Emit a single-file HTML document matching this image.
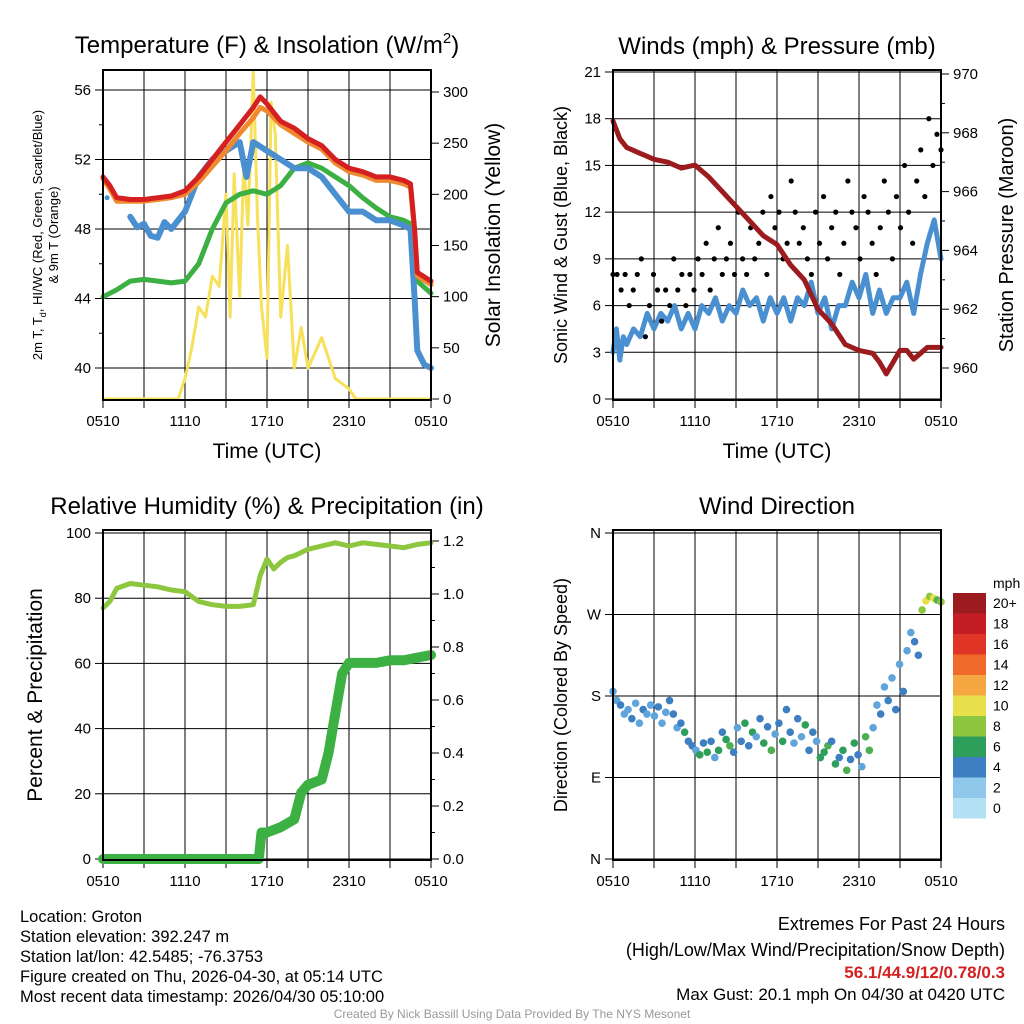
<!DOCTYPE html>
<html><head><meta charset="utf-8">
<style>
html,body{margin:0;padding:0;background:#fff;}
svg{display:block;font-family:"Liberation Sans",sans-serif;}
</style></head>
<body>
<svg id="root" width="1024" height="1024" viewBox="0 0 1024 1024"></svg>
<script>
// ---- data ----
const tempHours=[0,0.5,1,2,3,4,5,6,7,8,9,10,11,11.5,12,13,14,15,16,17,18,19,20,21,22,22.5,22.8,23,24];
const tempRed=[51,50.5,49.8,49.7,49.7,49.8,49.9,50.2,51,52,53,54,55,55.6,55.2,54.2,53.8,53.2,52.8,52,51.5,51.3,51,51,50.8,50.6,48,45.5,45];
const tempOrange=[50.9,50.3,49.6,49.6,49.6,49.7,49.8,50,50.7,51.6,52.5,53.5,54.4,55,54.8,54,53.5,53,52.6,51.8,51.3,51.1,50.8,50.8,50.6,50.4,47.8,45.3,44.8];
const greenHours=[0,1,2,3,4,5,6,7,8,9,10,11,12,13,14,15,16,17,18,19,20,21,22,22.5,22.8,23,24];
const tempGreen=[44.1,44.5,45,45.1,45,44.9,45,46,48,49.5,50,50.2,50,50.5,51.5,51.8,51.5,51,50.5,49.8,49.2,48.7,48.5,48.3,46,45,44.3];
const blueHours=[2,2.5,3,3.5,4,4.5,5,6,7,8,9,10,10.5,11,12,13,14,15,16,17,18,19,20,21,22,22.5,22.8,23,23.5,24];
const tempBlue=[48.7,48.1,48.3,47.6,47.5,48.4,48,49,51,52,52.5,53,51,53,52.5,52,51.5,51.5,51,50,49,49,48.5,48.5,48.2,48,44,41,40.2,40];
const solarHours=[0,5.5,6,6.5,7,7.5,8,8.5,9,9.3,9.6,10,10.3,10.6,11,11.3,11.6,12,12.3,12.6,13,13.5,14,14.5,15,16,16.5,17,18,18.5,24];
const solarVals=[0,0,20,50,90,80,120,110,200,80,220,100,230,170,320,180,90,40,290,260,80,150,30,70,30,60,40,20,10,0,0];
const windHours=[0,0.25,0.5,0.75,1,1.5,2,2.5,3,3.5,4,4.5,5,5.5,6,6.5,7,7.5,8,8.5,9,9.5,10,10.5,11,11.5,12,12.5,13,13.5,14,14.5,15,15.5,16,16.5,17,17.5,18,18.5,19,19.5,20,20.5,21,21.5,22,22.5,23,23.5,24];
const windSpeed=[3,4.5,2.5,4,3.5,4.5,4,5.5,4.5,5.5,5,6,4.5,5.5,4.5,6,5.5,6.5,5,6,5.5,7,6,6.5,5,6.5,5.5,6.5,5,6.5,6,7.5,5.5,6.5,4.5,6,6,7.5,6.5,8,5.5,7,5.5,6.5,6.5,7.5,5.5,8,10,11.5,9];
const gustVals=[8,8,7,8,6,7,8,9,4,6,8,7,5,7,6,9,7,8,6,8,7,9,8,10,7,9,11,8,9,10,8,12,9,8,11,9,10,12,8,13,11,12,9,10,14,12,10,11,9,8,12,10,13,9,11,12,8,10,14,12,11,9,13,12,10,8,11,14,12,9,13,11,15,12,10,14,16,13,18,15,17,16];
const presHours=[0,0.5,1,2,3,4,5,6,7,8,9,10,11,12,13,14,15,16,17,18,19,19.5,20,20.5,21,21.5,22,22.5,23,24];
const presVals=[968.4,967.8,967.5,967.3,967.1,967,966.8,966.9,966.5,966,965.5,965,964.5,964.2,963.5,963,962,961.5,960.8,960.6,960.5,960.2,959.8,960.2,960.6,960.6,960.3,960.5,960.7,960.7];
const rhHours=[0,0.5,1,2,3,4,5,6,7,8,9,10,11,11.5,12,12.5,13,13.5,14,15,16,17,18,19,20,21,22,23,24];
const rhVals=[77,79,83,84.5,84,83.5,82.5,82,79,78,77.5,77.5,78,87,92,89,91,92.5,93,95,96,97,96,97,96.5,96,95.5,96.5,97];
const precipHours=[0,11.4,11.6,12,13,14,14.5,15,16,16.5,17,17.5,18,19,20,21,22,23,24];
const precipVals=[0,0,0.1,0.1,0.12,0.15,0.25,0.28,0.3,0.4,0.55,0.7,0.74,0.74,0.74,0.75,0.75,0.76,0.77];
const dirVals=[185,175,170,160,165,155,172,150,165,160,170,158,168,150,162,175,160,145,150,140,130,125,120,115,128,118,130,112,120,140,132,125,118,145,130,150,125,140,135,155,128,146,120,138,150,130,165,140,128,155,135,148,120,140,130,112,118,125,130,105,112,120,98,110,128,115,102,135,120,145,170,160,190,175,200,165,215,185,230,250,240,225,275,285,290,288,286,284];
const dirSpeed=[3,2,4,2,3,4,2,3,4,2,3,2,4,3,2,5,4,3,5,6,4,5,3,7,4,6,5,3,7,4,6,8,5,3,4,6,5,7,3,4,6,5,8,3,4,6,4,5,3,4,3,6,5,4,3,6,7,8,5,6,4,7,9,5,6,4,3,8,9,3,2,4,3,4,2,5,3,4,2,3,4,5,11,12,10,13,9,11];
const colorLevels=["#b3e0f5","#8fc8eb","#5fa5db","#3d7fc0","#2e9e5b","#4cb050","#8dc63f","#e8e04a","#f5a742","#ef6a2b","#e03526","#c41e24","#9b1b1e"];

// ---- helpers ----
const NS="http://www.w3.org/2000/svg";
const root=document.getElementById('root');
function mk(tag,attrs,parent){const e=document.createElementNS(NS,tag);for(const k in attrs)e.setAttribute(k,attrs[k]);(parent||root).appendChild(e);return e;}
function txt(x,y,s,size,anchor,parent,extra){const t=mk('text',Object.assign({x:x,y:y,'font-size':size,'text-anchor':anchor||'middle',fill:'#000'},extra||{}),parent);t.textContent=s;return t;}
function lin(a,b,p,q){return v=>p+(v-a)*(q-p)/(b-a);}
const xl=["0510","1110","1710","2310","0510"];

function panel(name,x0,x1,y0,y1,title){
  const g=mk('g',{},root);
  
  
  const X=lin(0,24,x0,x1);
  for(let h=0;h<=24;h+=3){mk('line',{x1:X(h),x2:X(h),y1:y0,y2:y1+8,stroke:'#000','stroke-width':1},g);}
  for(let i=0;i<5;i++){const t=txt(X(i*6),y1+26,xl[i],15,'middle',g);
    
    }
  const tt=txt((x0+x1)/2,y0-16,title,24,'middle',g);
  
  
  return {g,X};
}
function frame(g,x0,x1,y0,y1){mk('rect',{x:x0,y:y0,width:x1-x0,height:y1-y0,fill:'none',stroke:'#000','stroke-width':2},g);}
function leftTicks(g,x0,x1,vals,Y,labels,grid,minor){
  vals.forEach((v,i)=>{if(grid)mk('line',{x1:x0,x2:x1,y1:Y(v),y2:Y(v),stroke:'#000','stroke-width':1},g);
    mk('line',{x1:x0-8,x2:x0,y1:Y(v),y2:Y(v),stroke:'#000'},g);
    const t=txt(x0-12,Y(v)+5,labels[i],15,'end',g);
    
    });
  (minor||[]).forEach(v=>mk('line',{x1:x0-4,x2:x0,y1:Y(v),y2:Y(v),stroke:'#000'},g));
}
function rightTicks(g,x1,vals,Y,labels,minor){
  vals.forEach((v,i)=>{mk('line',{x1:x1,x2:x1+8,y1:Y(v),y2:Y(v),stroke:'#000'},g);
    const t=txt(x1+12,Y(v)+5,labels[i],15,'start',g);
    
    });
  (minor||[]).forEach(v=>mk('line',{x1:x1,x2:x1+4,y1:Y(v),y2:Y(v),stroke:'#000'},g));
}
function path(g,hs,vs,X,Y,color,w,name){
  const d=hs.map((h,i)=>(i?'L':'M')+X(h).toFixed(1)+','+Y(vs[i]).toFixed(1)).join('');
  const p=mk('path',{d:d,fill:'none',stroke:color,'stroke-width':w,'stroke-linejoin':'round','stroke-linecap':'round'},g);
  
  
  return p;
}
function vlabel(x,y,s,size,g){const t=txt(x,y,s,size,'middle',g,{transform:'rotate(-90 '+x+' '+y+')'});return t;}

// ---- Panel 1: Temperature ----
{
 const x0=103,x1=431,y0=70,y1=400;
 const {g,X}=panel('temperature-panel',x0,x1,y0,y1,'');
 g.lastChild.remove();
 const T=mk('text',{x:267,y:53,'font-size':24,'text-anchor':'middle'},g);
 T.innerHTML='Temperature (F) &amp; Insolation (W/m<tspan dy="-10" font-size="15">2</tspan><tspan dy="10">)</tspan>';
 
 
 const Y=lin(40,56,368,90), YS=lin(0,300,399,92);
 leftTicks(g,x0,x1,[40,44,48,52,56],Y,["40","44","48","52","56"],true,[42,46,50,54]);
 rightTicks(g,x1,[0,50,100,150,200,250,300],YS,["0","50","100","150","200","250","300"]);
 path(g,solarHours,solarVals,X,YS,'#f7e05a',3,'solar-line');
 path(g,greenHours,tempGreen,X,Y,'#3cb043',5,'hiwc-line');
 path(g,blueHours,tempBlue,X,Y,'#4a90d0',6,'dewpoint-line');
 mk('circle',{cx:X(0.3),cy:Y(49.8),r:2.5,fill:'#4a90d0'},g);
 path(g,tempHours,tempOrange,X,Y,'#f08a30',5,'temp-9m-line');
 path(g,tempHours,tempRed,X,Y,'#d42020',5,'temp-2m-line');
 frame(g,x0,x1,y0,y1);
 txt(267,458,'Time (UTC)',21,'middle',g);
 const a=vlabel(42,235,'',13,g);a.innerHTML='2m T, T<tspan dy="4" font-size="9">d</tspan><tspan dy="-4">, HI/WC (Red, Green, Scarlet/Blue)</tspan>';
 vlabel(58,235,'& 9m T (Orange)',13,g);
 vlabel(500,235,'Solar Insolation (Yellow)',21,g);
}
// ---- Panel 2: Winds ----
{
 const x0=613,x1=941,y0=70,y1=400;
 const {g,X}=panel('winds-panel',x0,x1,y0,y1,'Winds (mph) & Pressure (mb)');
 const Y=lin(0,21,399,72), YP=lin(960,970,368,74);
 leftTicks(g,x0,x1,[0,3,6,9,12,15,18,21],Y,["0","3","6","9","12","15","18","21"],true);
 rightTicks(g,x1,[960,962,964,966,968,970],YP,["960","962","964","966","968","970"],[961,963,965,967,969]);
 path(g,windHours,windSpeed,X,Y,'#4a90d0',5,'wind-speed-line');
 gustVals.forEach((v,i)=>{const c=mk('circle',{cx:X(i*24/(gustVals.length-1)),cy:Y(v),r:2.6,fill:'#000'},g);
   
   });
 path(g,presHours,presVals,X,YP,'#9b1b1e',5,'pressure-line');
 frame(g,x0,x1,y0,y1);
 txt(777,458,'Time (UTC)',21,'middle',g);
 vlabel(567,235,'Sonic Wind & Gust (Blue, Black)',18,g);
 vlabel(1013,235,'Station Pressure (Maroon)',20,g);
}
// ---- Panel 3: RH ----
{
 const x0=103,x1=431,y0=530,y1=860;
 const {g,X}=panel('humidity-panel',x0,x1,y0,y1,'Relative Humidity (%) & Precipitation (in)');
 const Y=lin(0,100,859,533), YR=lin(0,1.2,859,541);
 leftTicks(g,x0,x1,[0,20,40,60,80,100],Y,["0","20","40","60","80","100"],true);
 rightTicks(g,x1,[0,0.2,0.4,0.6,0.8,1.0,1.2],YR,["0.0","0.2","0.4","0.6","0.8","1.0","1.2"],[0.1,0.3,0.5,0.7,0.9,1.1]);
 path(g,rhHours,rhVals,X,Y,'#8dc63f',5,'rh-line');
 path(g,precipHours,precipVals,X,YR,'#3cb043',10,'precip-line');
 frame(g,x0,x1,y0,y1);
 vlabel(42,695,'Percent & Precipitation',21,g);
}
// ---- Panel 4: Wind direction ----
{
 const x0=613,x1=941,y0=530,y1=860;
 const {g,X}=panel('wind-direction-panel',x0,x1,y0,y1,'Wind Direction');
 const Y=lin(0,360,859,533);
 leftTicks(g,x0,x1,[0,90,180,270,360],Y,["N","E","S","W","N"],true);
 dirVals.forEach((v,i)=>{const s=dirSpeed[i];const ci=Math.min(colorLevels.length-1,Math.floor(s/2)+1);
   const c=mk('circle',{cx:X(i*24/(dirVals.length-1)),cy:Y(v),r:3.8,fill:colorLevels[ci]},g);
   
   });
 frame(g,x0,x1,y0,y1);
 vlabel(567,695,'Direction (Colored By Speed)',18,g);
 const cb=mk('g',{},root);
 
 
 const labs=["0","2","4","6","8","10","12","14","16","18","20+"];
 const cb2=["#b3e0f5","#8fc8eb","#3d7fc0","#2e9e5b","#8dc63f","#e8e04a","#f5a742","#ef6a2b","#e03526","#c41e24","#9b1b1e"];
 for(let i=0;i<11;i++){const yy=798-i*20.5;mk('rect',{x:953,y:yy,width:33,height:20.5,fill:cb2[i]},cb);txt(993,yy+15,labs[i],14,'start',cb);}
 txt(993,588,'mph',14,'start',cb);
}
// ---- footer ----
const ft=mk('g',{},root);


["Location: Groton","Station elevation: 392.247 m","Station lat/lon: 42.5485; -76.3753","Figure created on Thu, 2026-04-30, at 05:14 UTC","Most recent data timestamp: 2026/04/30 05:10:00"].forEach((s,i)=>txt(20,922+i*20,s,16.5,'start',ft));
const ex=mk('g',{},root);


txt(1005,930,'Extremes For Past 24 Hours',18,'end',ex);
txt(1005,956,'(High/Low/Max Wind/Precipitation/Snow Depth)',18,'end',ex);
txt(1005,978,'56.1/44.9/12/0.78/0.3',17,'end',ex,{fill:'#d42020','font-weight':'bold'});
txt(1005,1000,'Max Gust: 20.1 mph On 04/30 at 0420 UTC',17,'end',ex);
const cr=txt(512,1018,'Created By Nick Bassill Using Data Provided By The NYS Mesonet',12,'middle',root,{fill:'#999'});


</script>
</body></html>
